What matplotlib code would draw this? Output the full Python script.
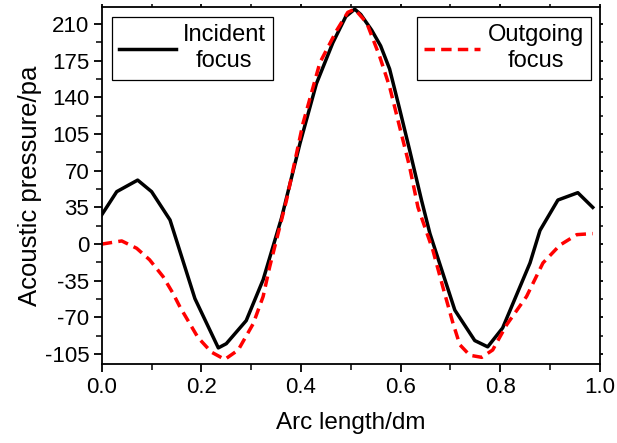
import matplotlib.pyplot as plt
from matplotlib.ticker import MultipleLocator

plt.rcParams["font.family"] = ["Liberation Sans", "DejaVu Sans"]

# Incident focus (black solid)
incident_x = [0.0, 0.03, 0.072, 0.10, 0.137, 0.187, 0.234, 0.25, 0.29, 0.324, 0.361,
              0.398, 0.431, 0.464, 0.49, 0.508, 0.52, 0.542, 0.56, 0.578, 0.598, 0.618,
              0.642, 0.659, 0.709, 0.749, 0.775, 0.805, 0.86, 0.88, 0.916, 0.956, 0.986]
incident_y = [28, 50, 61, 50, 23, -52, -99, -95, -73, -34, 25,
              96, 153, 192, 217, 224, 219, 204, 189, 167, 129, 90,
              42, 10, -63, -92, -98, -80, -18, 13, 42, 49, 35]

# Outgoing focus (red dashed)
outgoing_x = [0.0, 0.04, 0.07, 0.096, 0.123, 0.143, 0.157, 0.193, 0.22, 0.247, 0.274,
              0.304, 0.324, 0.337, 0.354, 0.371, 0.404, 0.438, 0.472, 0.494, 0.508,
              0.532, 0.558, 0.578, 0.598, 0.618, 0.635, 0.665, 0.685, 0.705, 0.719,
              0.739, 0.763, 0.785, 0.813, 0.853, 0.886, 0.92, 0.954, 0.986]
outgoing_y = [0, 3, -4, -15, -31, -47, -60, -89, -103, -110, -101,
              -76, -50, -22, 10, 42, 115, 173, 204, 221, 224,
              211, 179, 150, 112, 74, 35, -6, -41, -75, -96,
              -106, -108, -101, -77, -50, -18, -1, 9, 10]

y_ticks = [-105, -70, -35, 0, 35, 70, 105, 140, 175, 210]
x_ticks = [0.0, 0.2, 0.4, 0.6, 0.8, 1.0]

fig = plt.figure(figsize=(6.17, 4.43), dpi=100)
ax = fig.add_axes([0.165, 0.178, 0.807, 0.806])

l1, = ax.plot(incident_x, incident_y, color="black", lw=2.5, label="Incident\nfocus")
l2, = ax.plot(outgoing_x, outgoing_y, color="red", lw=2.5, ls=(0, (3.0, 1.8)),
              label="Outgoing\nfocus")

ax.set_xlim(0, 1.0)
ax.set_ylim(-114.5, 226)
ax.set_xticks(x_ticks)
ax.set_xticklabels([f"{v:.1f}" for v in x_ticks])
ax.set_yticks(y_ticks)
ax.set_yticklabels([str(v) for v in y_ticks])
ax.xaxis.set_minor_locator(MultipleLocator(0.1))
ax.yaxis.set_minor_locator(MultipleLocator(17.5))

ax.tick_params(which="major", direction="out", length=6, width=1.3, labelsize=16, pad=3,
               top=True, right=True)
ax.tick_params(which="minor", direction="out", length=4, width=1.1, top=True, right=True)
for t in ax.xaxis.get_major_ticks() + ax.xaxis.get_minor_ticks():
    t.tick2line.set_markersize(2)
for t in ax.yaxis.get_major_ticks() + ax.yaxis.get_minor_ticks():
    t.tick2line.set_markersize(2)
for s in ax.spines.values():
    s.set_linewidth(1.3)

ax.set_xlabel("Arc length/dm", fontsize=17.5, labelpad=10)
ax.set_ylabel("Acoustic pressure/pa", fontsize=18.5, labelpad=2)


def add_legend(handle, loc, anchor):
    leg = ax.legend(handles=[handle], loc=loc, bbox_to_anchor=anchor,
                    fontsize=17, frameon=True, fancybox=False, edgecolor="black",
                    handlelength=2.4, handletextpad=0.3, borderpad=0.3,
                    borderaxespad=0, framealpha=1)
    leg.get_frame().set_linewidth(0.9)
    for txt in leg.get_texts():
        txt.set_multialignment("center")
        txt.set_linespacing(1.25)
    return leg


leg1 = add_legend(l1, "upper left", (0.02, 0.972))
ax.add_artist(leg1)
add_legend(l2, "upper right", (0.982, 0.972))

fig.savefig("out.png", dpi=100)
